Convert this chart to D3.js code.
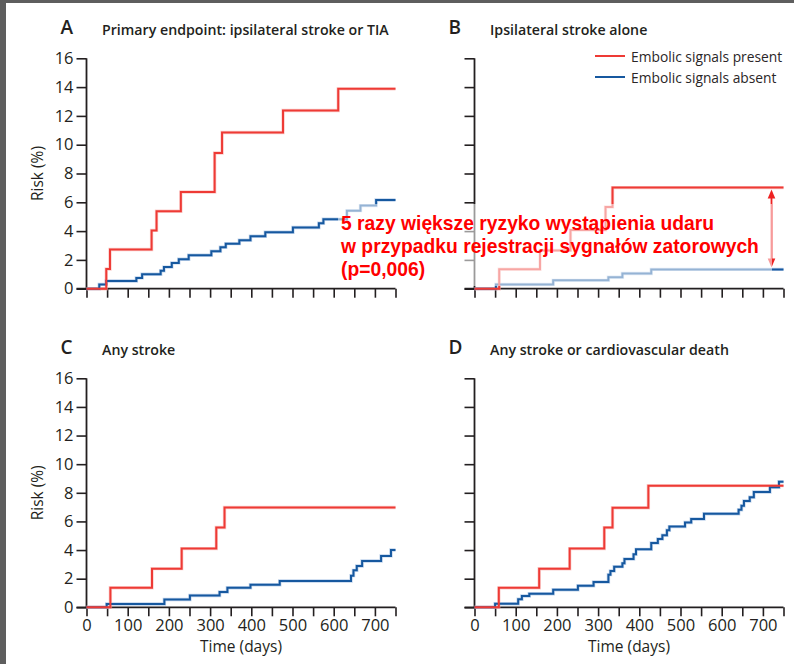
<!DOCTYPE html>
<html>
<head>
<meta charset="utf-8">
<script src="https://cdn.jsdelivr.net/npm/d3@7/dist/d3.min.js"></script>
<style>
  html, body { margin: 0; padding: 0; background: #ffffff; }
  svg { display: block; }
</style>
</head>
<body>
<svg id="chart" width="794" height="664"></svg>
<script>
// Cumulative risk (%) of events over follow-up, embolic signals present vs absent.
// Each series: event times (days) and the risk level reached at that time.

const maxDay = 750;
const xTicks = d3.range(0, 751, 50);
const xLabels = [0, 100, 200, 300, 400, 500, 600, 700];
const yTicks = [0, 2, 4, 6, 8, 10, 12, 14, 16];

const seriesNames = ["Embolic signals present", "Embolic signals absent"];

const panelLetters = ["A", "B", "C", "D"];
const panelTitles = [
  "Primary endpoint: ipsilateral stroke or TIA",
  "Ipsilateral stroke alone",
  "Any stroke",
  "Any stroke or cardiovascular death"
];

// A — ipsilateral stroke or TIA
const aPresentDays = [48, 57, 158, 170, 229, 311, 329, 477, 611];
const aPresentRisk = [1.37, 2.72, 4.05, 5.38, 6.72, 9.42, 10.85, 12.38, 13.88];
const aAbsentDays = [31, 48, 121, 135, 180, 188, 207, 224, 248, 303, 325, 338, 371, 398, 434, 501, 564, 575, 632, 665, 703];
const aAbsentRisk = [0.3, 0.53, 0.75, 1.0, 1.25, 1.5, 1.79, 2.04, 2.32, 2.6, 2.88, 3.13, 3.36, 3.64, 3.92, 4.25, 4.55, 4.82, 5.42, 5.77, 6.16];

// B — ipsilateral stroke alone
const bPresentDays = [60, 159, 233, 318, 335];
const bPresentRisk = [1.35, 2.66, 4.08, 5.67, 7.02];
const bAbsentDays = [52, 191, 325, 359, 429];
const bAbsentRisk = [0.3, 0.58, 0.8, 1.06, 1.34];

// C — any stroke
const cPresentDays = [58, 159, 231, 315, 335];
const cPresentRisk = [1.37, 2.7, 4.1, 5.58, 6.97];
const cAbsentDays = [49, 189, 251, 323, 342, 398, 469, 642, 648, 656, 669, 715, 739];
const cAbsentRisk = [0.23, 0.54, 0.82, 1.07, 1.37, 1.58, 1.84, 2.21, 2.58, 2.89, 3.24, 3.59, 4.0];

// D — any stroke or cardiovascular death
const dPresentDays = [59, 157, 231, 315, 335, 422];
const dPresentRisk = [1.36, 2.69, 4.1, 5.57, 6.96, 8.5];
const dAbsentDays = [50, 106, 115, 133, 191, 251, 289, 325, 330, 339, 359, 364, 386, 392, 429, 445, 456, 467, 473, 511, 526, 557, 641, 648, 654, 668, 678, 717, 739];
const dAbsentRisk = [0.25, 0.56, 0.79, 0.95, 1.23, 1.51, 1.77, 2.28, 2.54, 2.84, 3.07, 3.37, 3.7, 4.05, 4.49, 4.77, 5.03, 5.38, 5.64, 5.92, 6.17, 6.54, 6.82, 7.1, 7.43, 7.69, 8.06, 8.38, 8.78];

const noteLines = [
  "5 razy większe ryzyko wystąpienia udaru",
  "w przypadku rejestracji sygnałów zatorowych",
  "(p=0,006)"
];

// ---- styles ----
const RED = "#ee3a35";
const BLUE = "#16589f";
const INK = "#231f20";
const FONT = "'Open Sans', Lato, sans-serif";

const svg = d3.select("#chart");
svg.append("rect").attr("width", 794).attr("height", 664).attr("fill", "#ffffff");

const panels = [
  { letter: panelLetters[0], title: panelTitles[0], x: [86.5, 395.5], y: [288.7, 58.3], yLabels: true,  xLabels: false,
    present: [aPresentDays, aPresentRisk], absent: [aAbsentDays, aAbsentRisk], legend: false },
  { letter: panelLetters[1], title: panelTitles[1], x: [474.5, 783.5], y: [288.7, 58.3], yLabels: false, xLabels: false,
    present: [bPresentDays, bPresentRisk], absent: [bAbsentDays, bAbsentRisk], legend: true },
  { letter: panelLetters[2], title: panelTitles[2], x: [86.5, 395.5], y: [607.3, 378.3], yLabels: true,  xLabels: true,
    present: [cPresentDays, cPresentRisk], absent: [cAbsentDays, cAbsentRisk], legend: false },
  { letter: panelLetters[3], title: panelTitles[3], x: [474.5, 783.5], y: [607.3, 378.3], yLabels: false, xLabels: true,
    present: [dPresentDays, dPresentRisk], absent: [dAbsentDays, dAbsentRisk], legend: false }
];

function stepPoints(days, risk) {
  const pts = [[0, 0]];
  days.forEach((d, i) => pts.push([d, risk[i]]));
  pts.push([maxDay, risk[risk.length - 1]]);
  return pts;
}

panels.forEach(p => {
  const x = d3.scaleLinear().domain([0, maxDay]).range(p.x);
  const y = d3.scaleLinear().domain([0, 16]).range(p.y);
  const g = svg.append("g");

  // panel letter and title
  g.append("text")
    .attr("x", p.x[0] - 26).attr("y", p.y[1] - 24)
    .attr("font-family", FONT).attr("font-size", 19).attr("font-weight", 600)
    .attr("fill", INK).text(p.letter);
  g.append("text")
    .attr("x", p.x[0] + 15.5).attr("y", p.y[1] - 23.5)
    .attr("font-family", FONT).attr("font-size", 14.2).attr("font-weight", 600)
    .attr("fill", INK).text(p.title);

  // y axis
  const yAxis = d3.axisLeft(y).tickValues(yTicks).tickSize(10).tickPadding(3)
    .tickFormat(p.yLabels ? d3.format("d") : () => "");
  const ya = g.append("g").attr("transform", `translate(${p.x[0]},0)`).call(yAxis);

  // x axis
  const xAxis = d3.axisBottom(x).tickValues(xTicks).tickSize(9).tickPadding(3)
    .tickFormat(d => (p.xLabels && xLabels.includes(d)) ? d : "");
  const xa = g.append("g").attr("transform", `translate(0,${p.y[0]})`).call(xAxis);

  [ya, xa].forEach(a => {
    a.selectAll(".tick line").attr("stroke", INK).attr("stroke-width", 1.6);
    a.selectAll(".tick text").attr("fill", INK).attr("font-family", FONT).attr("font-size", 16.5);
  });
  // axis lines drawn explicitly so they meet at the origin
  ya.select(".domain").remove();
  xa.select(".domain").remove();
  g.append("line").attr("x1", p.x[0]).attr("x2", p.x[0]).attr("y1", p.y[0]).attr("y2", p.y[1])
    .attr("stroke", INK).attr("stroke-width", 1.8);
  g.append("line").attr("x1", p.x[0] - 10).attr("x2", p.x[1]).attr("y1", p.y[0]).attr("y2", p.y[0])
    .attr("stroke", INK).attr("stroke-width", 1.8);

  if (p.yLabels) {
    g.append("text")
      .attr("transform", `translate(${p.x[0] - 43.5},${(p.y[0] + p.y[1]) / 2}) rotate(-90)`)
      .attr("text-anchor", "middle")
      .attr("font-family", FONT).attr("font-size", 15.5).attr("fill", INK)
      .text("Risk (%)");
  }
  if (p.xLabels) {
    g.append("text")
      .attr("x", (p.x[0] + p.x[1]) / 2).attr("y", p.y[0] + 45)
      .attr("text-anchor", "middle")
      .attr("font-family", FONT).attr("font-size", 15.5).attr("fill", INK)
      .text("Time (days)");
  }

  const line = d3.line().x(d => x(d[0])).y(d => y(d[1])).curve(d3.curveStepAfter);
  const curves = [
    { pts: stepPoints(p.absent[0], p.absent[1]), color: BLUE, halo: "#8fb3dc" },
    { pts: stepPoints(p.present[0], p.present[1]), color: RED, halo: "#f7a9a6" }
  ];
  curves.forEach(c => {
    g.append("path").attr("d", line(c.pts)).attr("fill", "none")
      .attr("stroke", c.halo).attr("stroke-width", 3.4).attr("stroke-opacity", 0.55)
      .attr("stroke-linejoin", "miter");
  });
  curves.forEach(c => {
    g.append("path").attr("d", line(c.pts)).attr("fill", "none")
      .attr("stroke", c.color).attr("stroke-width", 2)
      .attr("stroke-linejoin", "miter");
  });

  if (p.legend) {
    const lg = g.append("g");
    [RED, BLUE].forEach((col, i) => {
      const ly = 56 + i * 21;
      lg.append("line").attr("x1", 595).attr("x2", 625).attr("y1", ly).attr("y2", ly)
        .attr("stroke", col).attr("stroke-width", 2);
      lg.append("text").attr("x", 631).attr("y", ly + 5.5)
        .attr("font-family", FONT).attr("font-size", 13.8).attr("fill", "#2a2627")
        .text(seriesNames[i]);
    });
  }

  if (p.letter === "B") {
    // double-headed arrow spanning the gap between the two curves at the end of follow-up
    const ax = 771.5;
    const yTop = y(p.present[1][p.present[1].length - 1]) + 2;
    const yBot = y(p.absent[1][p.absent[1].length - 1]) - 2;
    const arrow = svg.append("g").attr("class", "gap-arrow");
    arrow.append("line").attr("x1", ax).attr("x2", ax).attr("y1", yTop + 6).attr("y2", yBot - 6)
      .attr("stroke", "#ee2222").attr("stroke-width", 1.8);
    arrow.append("path").attr("d", `M${ax},${yTop} L${ax - 3.8},${yTop + 9} L${ax + 3.8},${yTop + 9} Z`).attr("fill", "#ee2222");
    arrow.append("path").attr("d", `M${ax},${yBot} L${ax - 3.8},${yBot - 9} L${ax + 3.8},${yBot - 9} Z`).attr("fill", "#ee2222");
  }
});

// translucent backing for the annotation text
svg.append("rect").attr("x", 338).attr("y", 204).attr("width", 434).attr("height", 82)
  .attr("fill", "#ffffff").attr("fill-opacity", 0.55);

const note = svg.append("text")
  .attr("font-family", "'Liberation Sans', Arial, sans-serif")
  .attr("font-size", 19.3).attr("font-weight", 700).attr("fill", "#ff0000");
noteLines.forEach((t, i) => {
  note.append("tspan").attr("x", 341).attr("y", 229.5 + i * 23).text(t);
});

// dark frame edges
svg.append("rect").attr("x", 0).attr("y", 0).attr("width", 6).attr("height", 664).attr("fill", "#5e5e5e");
svg.append("rect").attr("x", 0).attr("y", 0).attr("width", 794).attr("height", 3).attr("fill", "#5e5e5e");
</script>
</body>
</html>
